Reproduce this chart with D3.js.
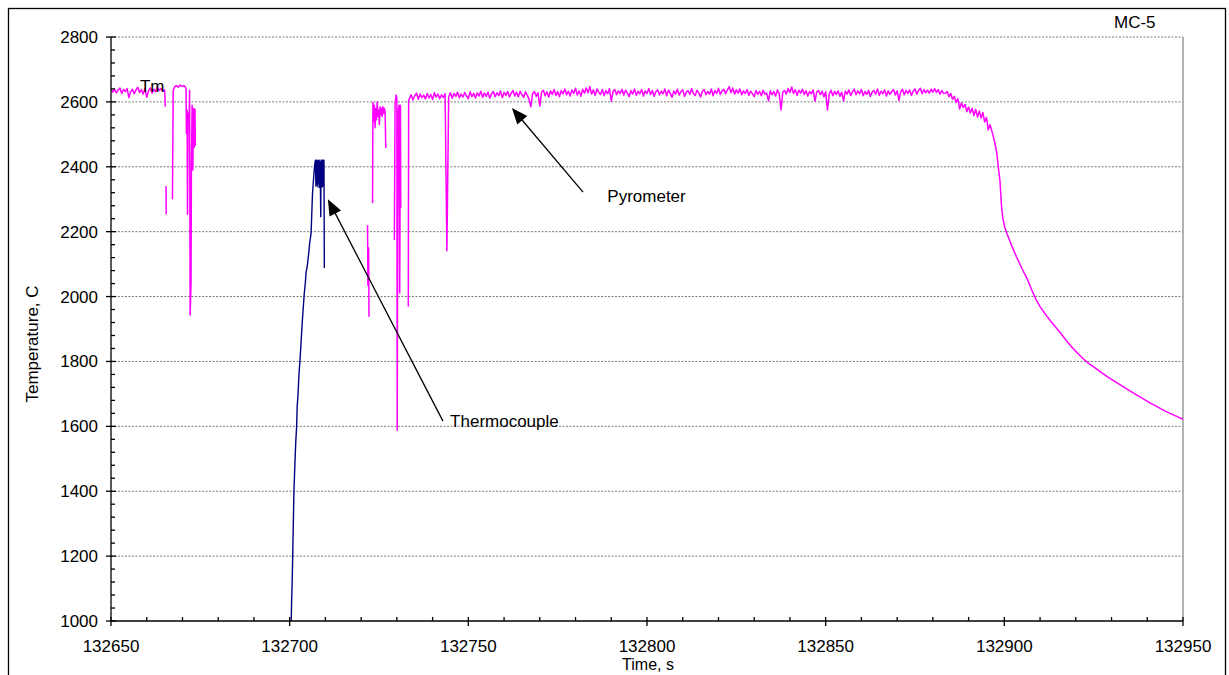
<!DOCTYPE html>
<html><head><meta charset="utf-8">
<script src="https://cdn.jsdelivr.net/npm/d3@7"></script>
<style>
html,body{margin:0;padding:0;background:#fff;}
svg{display:block;}
text{font-family:"Liberation Sans", Arial, sans-serif; fill:#000;}
</style></head><body>
<svg id="chart" width="1229" height="675"></svg>
<script>
// ---------------- DATA ----------------
const xTickValues = [132650, 132700, 132750, 132800, 132850, 132900, 132950];
const xTickLabels = ["132650", "132700", "132750", "132800", "132850", "132900", "132950"];
const yTickValues = [1000, 1200, 1400, 1600, 1800, 2000, 2200, 2400, 2600, 2800];
const yTickLabels = ["1000", "1200", "1400", "1600", "1800", "2000", "2200", "2400", "2600", "2800"];

// Pyrometer: leading plateau sampled every 0.5 s from 132650
const pyroLeadStart = 132650;
const pyroLeadStep = 0.5;
const pyroLeadValues = [2640,2630,2639,2628,2637,2643,2626,2638,2632,2641,
  2613,2631,2639,2625,2637,2645,2629,2638,2624,2641,
  2614,2634,2643,2627,2639,2631,2646,2635,2641,2633,2637];

// Pyrometer: early dropouts [time, temp]; null = no reading
const pyroEarlyPairs = [[132665.2,2585], null,
  [132665.4,2341],[132665.45,2254], null,
  [132667.2,2300],[132667.4,2634],[132667.8,2646],[132668.3,2650],[132668.8,2645],[132669.3,2652],
  [132669.8,2648],[132670.3,2650],[132670.8,2646],[132671.0,2640],[132671.1,2503],[132671.3,2575],
  [132671.4,2254],[132671.6,2560],[132671.9,2570],[132672.0,2636],[132672.15,1943],[132672.4,2042],
  [132672.5,2390],[132672.7,2590],[132672.9,2390],[132673.1,2580],[132673.3,2460],[132673.5,2577],
  [132673.6,2465], null];

// Pyrometer: dropouts before the main plateau
const pyroMidPairs = [[132721.8,2220],[132721.9,2035],[132722.1,2150],[132722.2,1938], null,
  [132723.2,2288],[132723.3,2598],[132723.5,2540],[132723.7,2590],[132723.9,2520],[132724.1,2580],
  [132724.3,2545],[132724.5,2600],[132724.7,2555],[132724.9,2575],[132725.1,2530],[132725.3,2585],
  [132725.5,2560],[132725.7,2580],[132725.9,2555],[132726.1,2585],[132726.3,2565],[132726.5,2580],
  [132726.7,2570],[132726.9,2458], null,
  [132729.3,2174],[132729.5,2596],[132729.8,2621],[132730.0,2610],[132730.1,1588],[132730.3,2560],
  [132730.6,2590],[132730.8,2011],[132731.0,2590],[132731.1,2274], null,
  [132733.2,1969],[132733.3,2604]];

// Pyrometer: main plateau sampled every 0.5 s from 132733.5 to 132896
const pyroPlateauStart = 132733.5;
const pyroPlateauStep = 0.5;
const pyroPlateauValues = [
  2610,2622,2606,2619,2627,2608,2624,2613,2621,2609,
  2626,2612,2623,2607,2628,2615,2624,2610,2622,2614,
  2625,2141,2616,2628,2611,2626,2617,2630,2613,2624,
  2615,2629,2618,2610,2631,2616,2626,2612,2628,2618,
  2633,2614,2627,2617,2630,2611,2625,2632,2616,2628,
  2619,2634,2613,2629,2620,2632,2615,2627,2635,2618,
  2630,2616,2633,2622,2614,2631,2620,2608,2585,2626,
  2632,2617,2628,2587,2630,2636,2619,2631,2615,2634,
  2623,2638,2620,2632,2616,2635,2625,2640,2622,2633,
  2618,2637,2626,2642,2621,2634,2617,2639,2627,2643,
  2628,2647,2624,2637,2620,2640,2629,2623,2638,2619,
  2635,2625,2641,2602,2632,2638,2622,2634,2626,2639,
  2621,2636,2627,2616,2635,2624,2640,2620,2633,2625,
  2638,2618,2634,2626,2641,2623,2635,2617,2632,2637,
  2622,2633,2625,2640,2619,2636,2627,2614,2634,2624,
  2639,2621,2632,2637,2617,2630,2635,2623,2641,2625,
  2620,2636,2627,2615,2633,2638,2622,2632,2624,2640,
  2619,2635,2626,2642,2623,2634,2639,2625,2637,2647,
  2628,2643,2624,2637,2627,2640,2622,2634,2626,2638,
  2620,2633,2625,2616,2635,2623,2632,2619,2636,2624,
  2627,2603,2634,2622,2632,2618,2637,2625,2575,2630,
  2635,2624,2641,2629,2646,2626,2638,2620,2636,2627,
  2639,2623,2634,2618,2632,2625,2637,2602,2630,2635,
  2622,2633,2616,2631,2575,2624,2636,2619,2632,2623,
  2634,2617,2630,2603,2633,2624,2637,2620,2631,2639,
  2622,2634,2625,2638,2619,2632,2623,2636,2617,2630,
  2635,2624,2640,2620,2633,2625,2637,2618,2634,2623,
  2632,2638,2621,2634,2605,2631,2639,2622,2635,2626,
  2637,2620,2633,2640,2624,2635,2642,2625,2638,2628,
  2636,2627,2639,2630,2641,2629,2638,2624,2635,2626,
  2627,2632,2616,2626,2608,2617,2598,2610,2578,2597,
  2583,2592,2570,2584,2566,2580,2558,2577,2553,2572,
  2550,2567,2538,2552,2513,2530];

// Pyrometer: cooling after the plateau [time, temp]
const pyroCoolingPairs = [[132896.5,2510],[132897.0,2490],[132897.5,2465],[132897.9,2442],[132898.3,2400],
  [132898.8,2354],[132899.2,2280],[132899.6,2240],[132900.1,2214],[132900.7,2195],[132902.0,2158],
  [132903.5,2120],[132905.0,2085],[132906.5,2052],[132908.0,2012],[132909.0,1988],[132910.0,1969],
  [132911.5,1945],[132913.0,1924],[132914.5,1904],[132916.0,1884],[132917.5,1862],[132919.0,1843],
  [132920.5,1825],[132922.0,1809],[132923.5,1795],[132925.0,1783],[132927.0,1767],[132929.0,1752],
  [132931.0,1738],[132933.0,1724],[132935.0,1710],[132937.0,1697],[132939.0,1684],[132941.0,1671],
  [132943.0,1659],[132945.0,1647],[132947.0,1637],[132949.0,1627],[132950.0,1622]];

// Thermocouple [time, temp]
const thermoPairs = [[132700.35,960],[132700.55,1060],[132700.7,1120],[132700.85,1200],[132701.0,1290],
  [132701.2,1400],[132701.45,1480],[132701.7,1550],[132701.95,1600],[132702.1,1660],[132702.35,1700],
  [132702.6,1760],[132702.9,1805],[132703.15,1850],[132703.4,1900],[132703.7,1950],[132704.1,2011],
  [132704.4,2045],[132704.6,2075],[132704.9,2092],[132705.3,2130],[132705.6,2165],[132705.8,2180],[132706.0,2196],[132706.2,2260],
  [132706.4,2319],[132706.6,2350],[132706.8,2380],[132707.0,2405],[132707.2,2420],[132707.35,2340],
  [132707.5,2420],[132707.6,2345],[132707.75,2418],[132707.9,2338],[132708.0,2420],[132708.1,2350],
  [132708.25,2420],[132708.4,2336],[132708.5,2415],[132708.6,2340],[132708.7,2246],[132708.8,2420],
  [132708.9,2342],[132709.0,2420],[132709.1,2338],[132709.2,2420],[132709.3,2345],[132709.4,2420],
  [132709.5,2340],[132709.6,2420],[132709.7,2088]];

// Annotations (in data coordinates)
const annoTexts = ["Tm", "Pyrometer", "Thermocouple"];
const annoTextAt = [[132658.1, 2630], [132788.9, 2292], [132744.9, 1599]];
const arrowFrom = [[132782.1, 2322], [132742.9, 1616]];
const arrowTo = [[132762.2, 2581], [132710.7, 2300]];

// ---------------- CHART ----------------
const svg = d3.select("#chart");
const L = 111, R = 1183, T = 37, B = 621;
const x = d3.scaleLinear().domain([132650, 132950]).range([L, R]);
const y = d3.scaleLinear().domain([1000, 2800]).range([B, T]);

// outer frame
svg.append("rect").attr("x", 8.5).attr("y", 8.5).attr("width", 1217).attr("height", 680)
  .attr("fill", "none").attr("stroke", "#000").attr("stroke-width", 1.3);

// gridlines
svg.append("g").selectAll("line").data(yTickValues.filter(v => v > 1000)).join("line")
  .attr("x1", L).attr("x2", R).attr("y1", d => y(d)).attr("y2", d => y(d))
  .attr("stroke", "#7a7a7a").attr("stroke-width", 1).attr("stroke-dasharray", "2,1.5");
// plot area right border
svg.append("line").attr("x1", R).attr("x2", R).attr("y1", T).attr("y2", B)
  .attr("stroke", "#9a9a9a").attr("stroke-width", 1.5);

// clip
svg.append("clipPath").attr("id", "clip").append("rect")
  .attr("x", L).attr("y", T).attr("width", R - L).attr("height", B - T);

// build pyrometer series
const pyroAll = [];
pyroLeadValues.forEach((v, i) => pyroAll.push([pyroLeadStart + i * pyroLeadStep, v]));
pyroEarlyPairs.forEach(p => pyroAll.push(p));
pyroMidPairs.forEach(p => pyroAll.push(p));
pyroPlateauValues.forEach((v, i) => pyroAll.push([pyroPlateauStart + i * pyroPlateauStep, v]));
pyroCoolingPairs.forEach(p => pyroAll.push(p));

const line = d3.line().defined(d => d !== null).x(d => x(d[0])).y(d => y(d[1]));
const plot = svg.append("g").attr("clip-path", "url(#clip)");
plot.append("path").datum(pyroAll).attr("d", line)
  .attr("fill", "none").attr("stroke", "#ff00ff").attr("stroke-width", 1.5).attr("stroke-linejoin", "round");
plot.append("path").datum(thermoPairs).attr("d", line)
  .attr("fill", "none").attr("stroke", "#000080").attr("stroke-width", 1.4).attr("stroke-linejoin", "round");

// axes
const xMinor = d3.range(132660, 132950, 10).filter(v => !xTickValues.includes(v));
const yMinor = d3.range(1040, 2800, 40).filter(v => !yTickValues.includes(v));
const ax = svg.append("g").attr("stroke", "#000").attr("stroke-width", 1.3);
ax.append("line").attr("x1", L).attr("x2", L).attr("y1", T).attr("y2", B + 0.5);
ax.append("line").attr("x1", L - 0.5).attr("x2", R).attr("y1", B).attr("y2", B);
ax.selectAll(".ymaj").data(yTickValues).join("line").attr("class", "ymaj")
  .attr("x1", L - 5).attr("x2", L + 5).attr("y1", d => y(d)).attr("y2", d => y(d));
ax.selectAll(".ymin").data(yMinor).join("line").attr("class", "ymin")
  .attr("x1", L).attr("x2", L + 4).attr("y1", d => y(d)).attr("y2", d => y(d));
ax.selectAll(".xmaj").data(xTickValues).join("line").attr("class", "xmaj")
  .attr("x1", d => x(d)).attr("x2", d => x(d)).attr("y1", B - 4).attr("y2", B + 5);
ax.selectAll(".xmin").data(xMinor).join("line").attr("class", "xmin")
  .attr("x1", d => x(d)).attr("x2", d => x(d)).attr("y1", B - 4).attr("y2", B);

svg.append("g").selectAll("text").data(yTickValues).join("text")
  .attr("x", 98).attr("y", d => y(d) + 6).attr("text-anchor", "end")
  .attr("font-size", 17).text((d, i) => yTickLabels[i]);
svg.append("g").selectAll("text").data(xTickValues).join("text")
  .attr("x", d => x(d)).attr("y", 652).attr("text-anchor", "middle")
  .attr("font-size", 17).text((d, i) => xTickLabels[i]);

// axis titles
svg.append("text").attr("transform", "translate(37.5,344) rotate(-90)")
  .attr("text-anchor", "middle").attr("font-size", 17).text("Temperature, C");
svg.append("text").attr("x", 648).attr("y", 670).attr("text-anchor", "middle")
  .attr("font-size", 16).text("Time, s");
svg.append("text").attr("x", 1114).attr("y", 27.5).attr("font-size", 17).text("MC-5");

// annotations
svg.append("g").selectAll("text").data(annoTexts).join("text")
  .attr("x", (d, i) => x(annoTextAt[i][0])).attr("y", (d, i) => y(annoTextAt[i][1]))
  .attr("font-size", 17).text(d => d);

arrowFrom.forEach((f, i) => {
  const x0 = x(f[0]), y0 = y(f[1]), x1 = x(arrowTo[i][0]), y1 = y(arrowTo[i][1]);
  const dx = x1 - x0, dy = y1 - y0, len = Math.hypot(dx, dy);
  const ux = dx / len, uy = dy / len, hl = 16, hw = 6.5;
  const bx = x1 - ux * hl, by = y1 - uy * hl;
  svg.append("line").attr("x1", x0).attr("y1", y0).attr("x2", bx + ux * 2).attr("y2", by + uy * 2)
    .attr("stroke", "#000").attr("stroke-width", 1.3);
  svg.append("polygon").attr("points", [
    [x1, y1], [bx - uy * hw, by + ux * hw], [bx + uy * hw, by - ux * hw]
  ].map(p => p.join(",")).join(" ")).attr("fill", "#000");
});
</script>
</body></html>
